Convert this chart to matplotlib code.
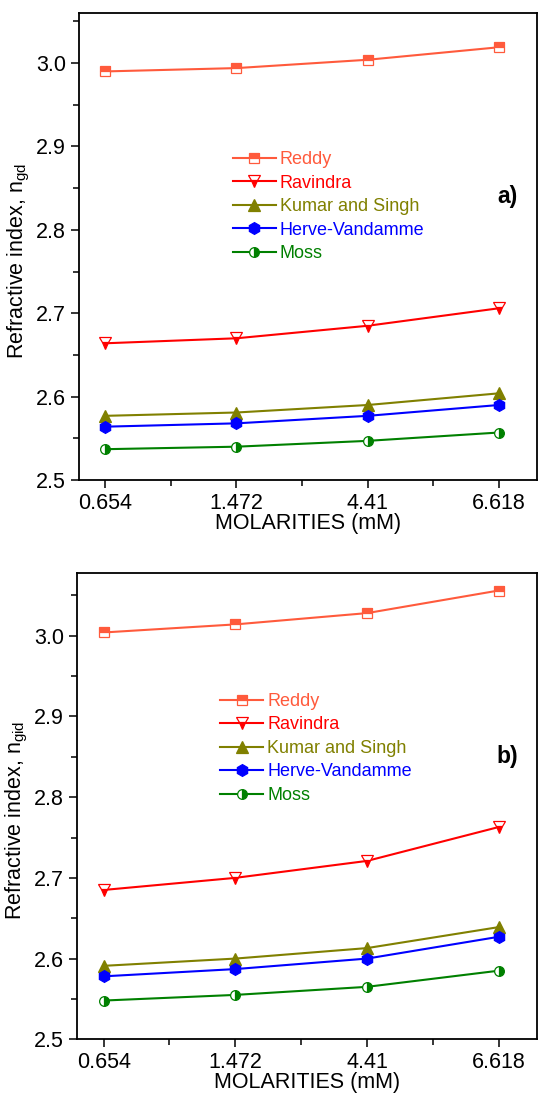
"""
Refractive index against molarity for five empirical models, panels a) and b).
"""

import matplotlib
matplotlib.use("Agg")
import matplotlib.pyplot as plt
from matplotlib.ticker import MultipleLocator, FixedLocator

plt.rcParams["font.family"] = ["Liberation Sans", "DejaVu Sans"]
plt.rcParams["mathtext.fontset"] = "custom"
plt.rcParams["mathtext.rm"] = "Liberation Sans"
plt.rcParams["mathtext.it"] = "Liberation Sans:italic"

molarities = ["0.654", "1.472", "4.41", "6.618"]

# panel a) n_gd
reddy_a = [2.990, 2.994, 3.004, 3.019]
ravindra_a = [2.664, 2.670, 2.685, 2.706]
kumar_a = [2.577, 2.581, 2.590, 2.604]
herve_a = [2.564, 2.568, 2.577, 2.590]
moss_a = [2.537, 2.540, 2.547, 2.557]

# panel b) n_gid
reddy_b = [3.004, 3.014, 3.028, 3.056]
ravindra_b = [2.685, 2.700, 2.721, 2.763]
kumar_b = [2.591, 2.600, 2.613, 2.639]
herve_b = [2.578, 2.587, 2.600, 2.627]
moss_b = [2.548, 2.555, 2.565, 2.585]

SERIES_STYLE = [
    ("Reddy", "#FF5A3C", "s", "top", 6.5),
    ("Ravindra", "#FF0000", "v", "bottom", 8.0),
    ("Kumar and Singh", "#808000", "^", "full", 8.5),
    ("Herve-Vandamme", "#0000FF", "h", "full", 8.5),
    ("Moss", "#008000", "o", "right", 7.0),
]


def draw_panel(ax, series, ylabel, tag, ytop, legend_anchor):
    x = list(range(len(molarities)))
    for values, (label, color, marker, fill, ms) in zip(series, SERIES_STYLE):
        ax.plot(
            x, values, color=color, linewidth=1.5, marker=marker, markersize=ms,
            fillstyle=fill, markerfacecolor=color, markerfacecoloralt="white",
            markeredgecolor=color, markeredgewidth=0.9, label=label,
        )
    ax.set_xlim(-0.2, 3.29)
    ax.set_ylim(2.5, ytop)
    ax.xaxis.set_major_locator(FixedLocator(x))
    ax.set_xticklabels(molarities)
    ax.xaxis.set_minor_locator(FixedLocator([0.5, 1.5, 2.5]))
    ax.yaxis.set_major_locator(MultipleLocator(0.1))
    ax.yaxis.set_minor_locator(MultipleLocator(0.05))
    ax.tick_params(which="major", direction="out", length=6, width=1.1, labelsize=15.5)
    ax.tick_params(which="minor", direction="out", length=4, width=1.1)
    for side in ("top", "right", "left", "bottom"):
        ax.spines[side].set_linewidth(1.3)
    ax.set_xlabel("MOLARITIES (mM)", fontsize=15.5, labelpad=-1)
    ax.set_ylabel(ylabel, fontsize=15.5)
    ax.yaxis.set_label_coords(-0.103, 0.47)
    ax.text(0.935, 0.607, tag, transform=ax.transAxes, fontsize=16.5,
            fontweight="bold", ha="center", va="center")
    leg = ax.legend(loc="upper left", bbox_to_anchor=legend_anchor, frameon=False,
                    fontsize=13, handlelength=2.4, handletextpad=0.2,
                    labelspacing=0.36, borderaxespad=0.0)
    for text, (_, color, _, _, _) in zip(leg.get_texts(), SERIES_STYLE):
        text.set_color(color)


fig = plt.figure(figsize=(5.39, 10.97), dpi=100)
ax_a = fig.add_axes([0.1466, 0.5624, 0.8497, 0.4257])
ax_b = fig.add_axes([0.1434, 0.0526, 0.8529, 0.4253])

draw_panel(ax_a, [reddy_a, ravindra_a, kumar_a, herve_a, moss_a],
           r"Refractive index, n$_{\rm gd}$", "a)", 3.06, (0.32, 0.72))
draw_panel(ax_b, [reddy_b, ravindra_b, kumar_b, herve_b, moss_b],
           r"Refractive index, n$_{\rm gid}$", "b)", 3.078, (0.295, 0.758))

fig.savefig("out.png", dpi=100)
plt.close(fig)
